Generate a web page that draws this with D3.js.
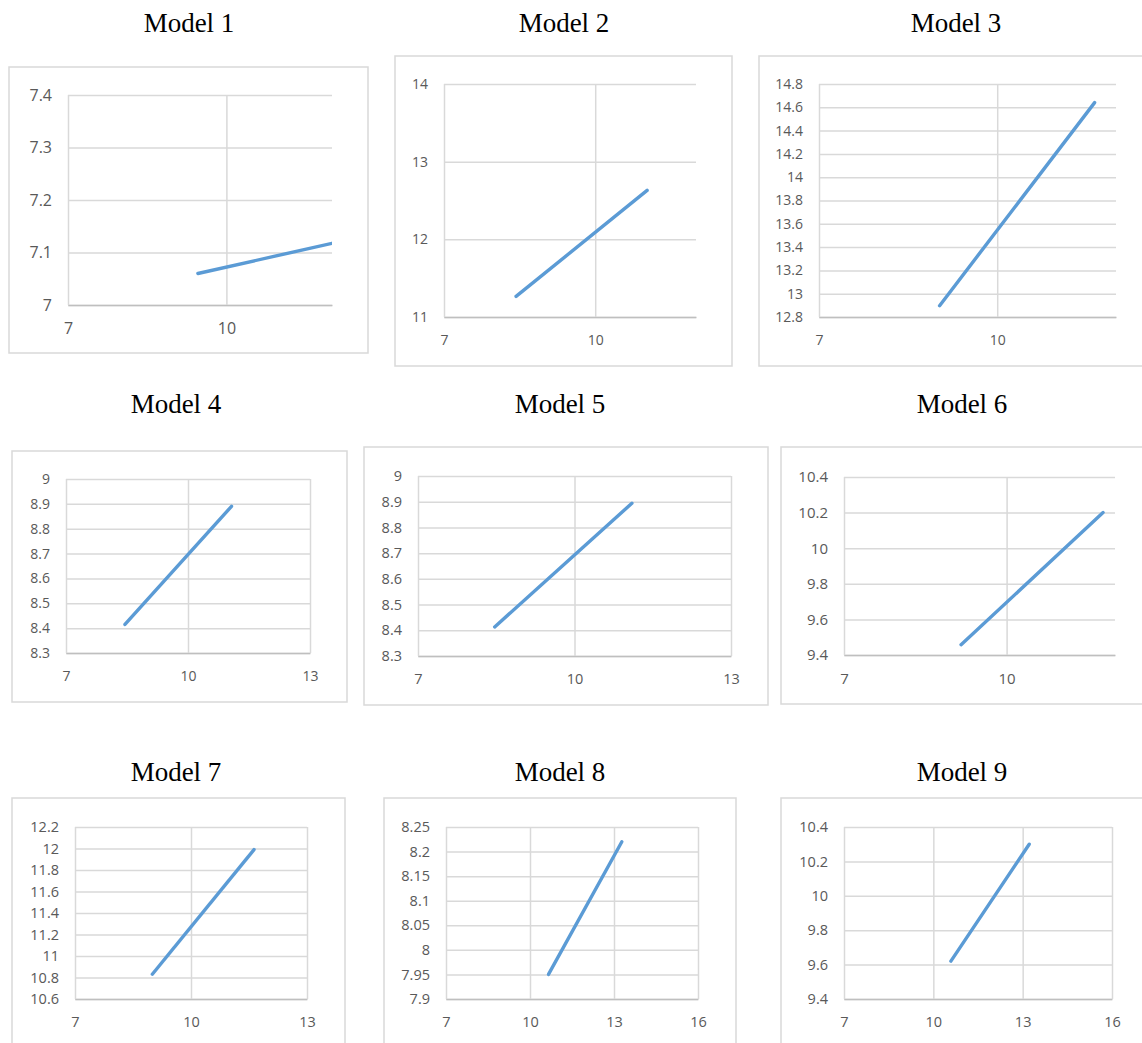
<!DOCTYPE html>
<html>
<head>
<meta charset="utf-8">
<script src="https://cdn.jsdelivr.net/npm/d3@7"></script>
<style>
  body { margin: 0; background: #fff; }
  svg { display: block; }
</style>
</head>
<body>
<div id="chart"></div>
<script>
// chart values
var titles = ["Model 1", "Model 2", "Model 3", "Model 4", "Model 5", "Model 6", "Model 7", "Model 8", "Model 9"];

var xDomains = [[7, 12], [7, 12], [7, 12], [7, 13], [7, 13], [7, 12], [7, 13], [7, 16], [7, 16]];

var xTicks = [
  [7, 10], [7, 10], [7, 10],
  [7, 10, 13], [7, 10, 13], [7, 10],
  [7, 10, 13], [7, 10, 13, 16], [7, 10, 13, 16]
];

var yTicks = [
  [7, 7.1, 7.2, 7.3, 7.4],
  [11, 12, 13, 14],
  [12.8, 13, 13.2, 13.4, 13.6, 13.8, 14, 14.2, 14.4, 14.6, 14.8],
  [8.3, 8.4, 8.5, 8.6, 8.7, 8.8, 8.9, 9],
  [8.3, 8.4, 8.5, 8.6, 8.7, 8.8, 8.9, 9],
  [9.4, 9.6, 9.8, 10, 10.2, 10.4],
  [10.6, 10.8, 11, 11.2, 11.4, 11.6, 11.8, 12, 12.2],
  [7.9, 7.95, 8, 8.05, 8.1, 8.15, 8.2, 8.25],
  [9.4, 9.6, 9.8, 10, 10.2, 10.4]
];

// each model line: [x, y] start and end
var lines = [
  [[9.46, 7.060], [12.0, 7.1175]],
  [[8.43, 11.265], [11.03, 12.63]],
  [[9.03, 12.897], [11.64, 14.64]],
  [[8.45, 8.415], [11.07, 8.89]],
  [[8.47, 8.413], [11.10, 8.894]],
  [[9.16, 9.458], [11.78, 10.20]],
  [[9.00, 10.83], [11.63, 11.99]],
  [[10.66, 7.95], [13.28, 8.22]],
  [[10.59, 9.62], [13.22, 10.30]]
];

// layout: box [x0,y0,x1,y1], plot [x0,y0,x1,y1], title centre & baseline, tick font size
var layout = [
  {box: [9, 67, 368, 353],      plot: [68, 95, 332, 305],      tx: 189, ty: 32,  fs: 16},
  {box: [395, 56, 732, 366],    plot: [444, 84, 696, 317],     tx: 564, ty: 32,  fs: 14},
  {box: [759, 56, 1160, 366],   plot: [819, 84, 1116, 317],    tx: 956, ty: 32,  fs: 14},
  {box: [12, 451, 347, 702],    plot: [66, 479, 310, 653],     tx: 176, ty: 413, fs: 14},
  {box: [364, 447, 768, 705],   plot: [418, 476, 731, 656],    tx: 560, ty: 413, fs: 14.5},
  {box: [781, 447, 1160, 704],  plot: [844, 477, 1115, 655],   tx: 962, ty: 413, fs: 15},
  {box: [12, 798, 345, 1070],   plot: [75, 827, 307, 999],     tx: 176, ty: 781, fs: 14.5},
  {box: [384, 798, 736, 1070],  plot: [446, 827, 698, 999],    tx: 560, ty: 781, fs: 14.5},
  {box: [781, 798, 1160, 1070], plot: [844, 827, 1112, 999],   tx: 962, ty: 781, fs: 14.5}
];

var width = 1142, height = 1043;

var svg = d3.select("#chart")
  .append("svg")
    .attr("width", width)
    .attr("height", height);

titles.forEach(function(title, i) {
  var L = layout[i],
      pl = L.plot[0], pt = L.plot[1], pr = L.plot[2], pb = L.plot[3];

  var g = svg.append("g");

  // chart frame
  g.append("rect")
    .attr("x", L.box[0]).attr("y", L.box[1])
    .attr("width", L.box[2] - L.box[0]).attr("height", L.box[3] - L.box[1])
    .attr("fill", "#fff")
    .attr("stroke", "#d9d9d9")
    .attr("stroke-width", 1.5);

  // title
  g.append("text")
    .attr("x", L.tx).attr("y", L.ty)
    .attr("text-anchor", "middle")
    .style("font-family", "'Liberation Serif', 'DejaVu Serif', serif")
    .style("font-size", "27px")
    .style("fill", "#000")
    .text(title);

  var yt = yTicks[i];
  var x = d3.scaleLinear().domain(xDomains[i]).range([pl, pr]);
  var y = d3.scaleLinear().domain([yt[0], yt[yt.length - 1]]).range([pb, pt]);

  // horizontal gridlines + y labels
  var yAxis = g.append("g")
    .attr("transform", "translate(" + pl + ",0)")
    .call(d3.axisLeft(y)
      .tickValues(yt)
      .tickSize(-(pr - pl))
      .tickPadding(16)
      .tickFormat(function(d) { return String(d); }));
  yAxis.select(".domain").remove();

  // vertical gridlines + x labels
  var xAxis = g.append("g")
    .attr("transform", "translate(0," + pb + ")")
    .call(d3.axisBottom(x)
      .tickValues(xTicks[i])
      .tickSize(-(pb - pt))
      .tickSizeOuter(0)
      .tickPadding(18)
      .tickFormat(function(d) { return String(d); }));

  g.selectAll(".tick line")
    .attr("stroke", "#d9d9d9")
    .attr("stroke-width", 1.5);
  g.selectAll(".tick text")
    .style("font-family", "'Open Sans', 'Noto Sans', sans-serif")
    .style("font-size", L.fs + "px")
    .attr("fill", "#595959");
  xAxis.select(".domain")
    .attr("stroke", "#bfbfbf")
    .attr("stroke-width", 1.6);

  // clip the model line to the plot area
  var clipId = "clip" + i;
  g.append("clipPath").attr("id", clipId)
    .append("rect")
      .attr("x", pl).attr("y", pt)
      .attr("width", pr - pl).attr("height", pb - pt);

  var line = d3.line()
    .x(function(d) { return x(d[0]); })
    .y(function(d) { return y(d[1]); });

  g.append("path")
    .datum(lines[i])
    .attr("clip-path", "url(#" + clipId + ")")
    .attr("d", line)
    .attr("fill", "none")
    .attr("stroke", "#5b9bd5")
    .attr("stroke-width", 3.4)
    .attr("stroke-linecap", "round");
});
</script>
</body>
</html>
